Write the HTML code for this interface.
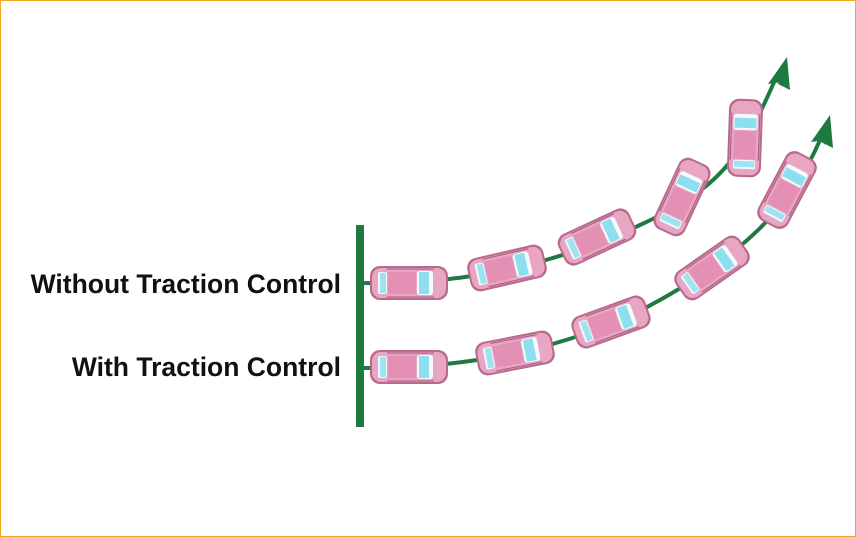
<!DOCTYPE html>
<html><head><style>
html,body{margin:0;padding:0;background:#fff;}
.wrap{position:relative;width:854px;height:535px;border:1px solid #f5a623;overflow:hidden;}
.lbl{position:absolute;font-family:"Liberation Sans",sans-serif;font-weight:bold;font-size:26.5px;color:#111;right:514px;white-space:nowrap;}
</style></head><body>
<div class="wrap">
<div class="lbl" style="top:268px;">Without Traction Control</div>
<div class="lbl" style="top:351px;">With Traction Control</div>
<svg width="856" height="537" style="position:absolute;left:-1px;top:-1px">
<defs>
<g id="car">
<rect x="-39" y="-17" width="78" height="34" rx="10" fill="#b86a8c"/>
<rect x="-37" y="-15" width="74" height="30" rx="9" fill="#e9a6c2"/>
<rect x="-31" y="-11" width="9" height="22" rx="2" fill="#eef8ff"/>
<rect x="-29" y="-10" width="6" height="20" fill="#9fe3f0"/>
<rect x="8" y="-12" width="16" height="24" rx="3" fill="#f4fbff"/>
<rect x="10" y="-11" width="10" height="22" fill="#8ddfef"/>
<rect x="-21" y="-11" width="28" height="22" fill="#e48fb4"/>
<line x1="-22" y1="-14" x2="25" y2="-14" stroke="#a35a7a" stroke-width="1"/>
<line x1="-22" y1="14" x2="25" y2="14" stroke="#a35a7a" stroke-width="1"/>
</g>
</defs>
<rect x="356" y="225" width="8" height="202" fill="#1f7a3f"/>
<path d="M364 283 C 470 285, 560 262, 640 225 S 740 160, 775 80" fill="none" stroke="#1f7a3f" stroke-width="4"/>
<polygon points="787,57 768,84 782,82 780,94" fill="#1f7a3f"/>
<polygon points="787,57 790,90 778,84" fill="#1f7a3f"/>
<path d="M364 368 C 480 368, 580 345, 660 300 S 790 210, 820 140" fill="none" stroke="#1f7a3f" stroke-width="4"/>
<polygon points="830,115 833,148 821,142" fill="#1f7a3f"/>
<polygon points="830,115 811,142 825,140 823,152" fill="#1f7a3f"/>
<use href="#car" transform="translate(409,283)"/>
<use href="#car" transform="translate(507,268) rotate(-13)"/>
<use href="#car" transform="translate(597,237) rotate(-25)"/>
<use href="#car" transform="translate(682,197) rotate(-65)"/>
<use href="#car" transform="translate(745,138) rotate(-88)"/>
<use href="#car" transform="translate(409,367)"/>
<use href="#car" transform="translate(515,353) rotate(-11)"/>
<use href="#car" transform="translate(611,322) rotate(-20)"/>
<use href="#car" transform="translate(712,268) rotate(-35)"/>
<use href="#car" transform="translate(787,190) rotate(-62)"/>
</svg>
</div>
</body></html>
